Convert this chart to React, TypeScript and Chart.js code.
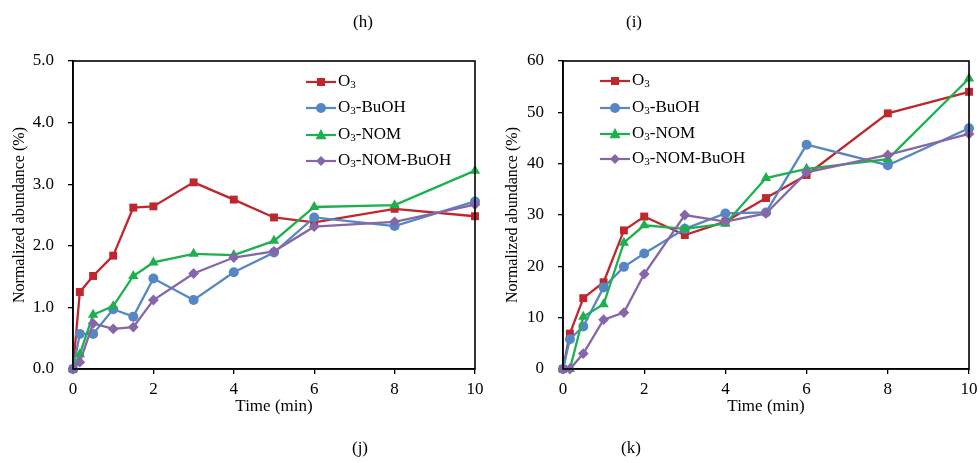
import React, { useEffect, useRef } from 'react';
import { Chart, registerables } from 'chart.js';

Chart.register(...registerables);

const timeMin = [0, 0.17, 0.5, 1, 1.5, 2, 3, 4, 5, 6, 8, 10];
const seriesNames = ['O3', 'O3-BuOH', 'O3-NOM', 'O3-NOM-BuOH'];
const xTicks = [0, 2, 4, 6, 8, 10];

// Panel (h) values, %
const hO3 = [0, 1.25, 1.51, 1.84, 2.62, 2.64, 3.03, 2.75, 2.46, 2.38, 2.6, 2.48];
const hBuOH = [0, 0.57, 0.57, 0.97, 0.85, 1.47, 1.12, 1.57, 1.89, 2.46, 2.32, 2.72];
const hNOM = [0, 0.24, 0.88, 1.02, 1.51, 1.73, 1.87, 1.85, 2.08, 2.63, 2.66, 3.22];
const hNOMBuOH = [0, 0.11, 0.74, 0.65, 0.68, 1.12, 1.55, 1.81, 1.91, 2.31, 2.39, 2.67];
const hYTicks = [0, 1, 2, 3, 4, 5];

// Panel (i) values, %
const iO3 = [0, 6.9, 13.8, 16.9, 27.0, 29.7, 26.1, 28.7, 33.3, 37.8, 49.8, 54.0];
const iBuOH = [0, 5.8, 8.3, 15.9, 19.9, 22.5, 27.3, 30.3, 30.5, 43.7, 39.7, 46.9];
const iNOM = [0, 0, 10.2, 12.6, 24.6, 28.0, 27.3, 28.3, 37.2, 39.0, 40.9, 56.6];
const iNOMBuOH = [0, 0, 3.0, 9.6, 11.0, 18.5, 30.0, 28.7, 30.3, 38.3, 41.7, 45.8];
const iYTicks = [0, 10, 20, 30, 40, 50, 60];

const colors = ['#C0262D', '#5687C4', '#1DB04E', '#8766A8'];
const pointStyles = ['rect', 'circle', 'triangle', 'rectRot'];
const pointRadii = [5.6, 5, 6, 5.4];
const legendRadii = [4, 5, 5.5, 5];

const SERIF = "'Liberation Serif', 'Times New Roman', serif";

function drawMarker(ctx: CanvasRenderingContext2D, style: string, x: number, y: number, r: number, color: string) {
  ctx.save();
  ctx.fillStyle = color;
  ctx.beginPath();
  if (style === 'rect') {
    ctx.rect(x - r, y - r, 2 * r, 2 * r);
  } else if (style === 'circle') {
    ctx.arc(x, y, r, 0, Math.PI * 2);
  } else if (style === 'triangle') {
    ctx.moveTo(x, y - r * 1.1);
    ctx.lineTo(x + r, y + r * 0.75);
    ctx.lineTo(x - r, y + r * 0.75);
    ctx.closePath();
  } else {
    ctx.moveTo(x, y - r);
    ctx.lineTo(x + r, y);
    ctx.lineTo(x, y + r);
    ctx.lineTo(x - r, y);
    ctx.closePath();
  }
  ctx.fill();
  ctx.restore();
}

const boxPlugin = {
  id: 'boxAndLegend',
  afterDraw(chart: any, _args: any, opts: any) {
    const { ctx, chartArea } = chart;
    ctx.save();
    ctx.strokeStyle = '#000';
    ctx.lineWidth = 1.6;
    ctx.strokeRect(chartArea.left, chartArea.top, chartArea.right - chartArea.left, chartArea.bottom - chartArea.top);
    // legend
    const lx = chartArea.left + opts.dx;
    const rows: number[] = opts.rows;
    chart.data.datasets.forEach((_ds: any, i: number) => {
      const y = rows[i];
      ctx.strokeStyle = colors[i];
      ctx.lineWidth = 2.2;
      ctx.beginPath();
      ctx.moveTo(lx, y);
      ctx.lineTo(lx + 30, y);
      ctx.stroke();
      drawMarker(ctx, pointStyles[i], lx + 15, y, legendRadii[i], colors[i]);
      const name: string = seriesNames[i];
      let tx = lx + 32;
      ctx.fillStyle = '#000';
      ctx.textBaseline = 'middle';
      ctx.textAlign = 'left';
      ctx.font = `17px ${SERIF}`;
      ctx.fillText('O', tx, y);
      tx += ctx.measureText('O').width;
      ctx.font = `11px ${SERIF}`;
      ctx.fillText('3', tx, y + 3);
      tx += ctx.measureText('3').width;
      ctx.font = `17px ${SERIF}`;
      ctx.fillText(name.slice(2), tx, y);
    });
    ctx.restore();
  },
};

type Panel = {
  series: number[][];
  yTicks: number[];
  decimals: number;
  legendDx: number;
  legendRows: number[];
  yWidth: number;
  padLeft: number;
  padRight: number;
};

function makeConfig(p: Panel): any {
  const yMax = p.yTicks[p.yTicks.length - 1];
  return {
    type: 'line',
    data: {
      datasets: p.series.map((vals, i) => ({
        label: seriesNames[i],
        data: timeMin.map((t, j) => ({ x: t, y: vals[j] })),
        borderColor: colors[i],
        backgroundColor: colors[i],
        pointStyle: pointStyles[i],
        pointRadius: pointRadii[i],
        pointBorderWidth: 0,
        borderWidth: 2.3,
        clip: false,
        tension: 0,
        order: 3 - i,
      })),
    },
    options: {
      responsive: false,
      animation: false,
      devicePixelRatio: 1,
      layout: { padding: { left: p.padLeft, right: p.padRight, top: 61, bottom: 46 } },
      plugins: {
        legend: { display: false },
        tooltip: { enabled: false },
        boxAndLegend: { dx: p.legendDx, rows: p.legendRows },
      },
      scales: {
        x: {
          type: 'linear',
          min: 0,
          max: 10,
          afterBuildTicks: (scale: any) => {
            scale.ticks = xTicks.map((v) => ({ value: v }));
          },
          afterFit: (scale: any) => {
            scale.height = 48;
            scale.paddingLeft = 0;
            scale.paddingRight = 0;
          },
          ticks: {
            color: '#000',
            font: { family: SERIF, size: 17 },
            padding: 5,
            maxRotation: 0,
          },
          grid: { display: true, drawOnChartArea: false, drawTicks: true, tickLength: 5, color: '#000', lineWidth: 1.3 },
          border: { display: true, color: '#000', width: 1.6 },
          title: {
            display: true,
            text: 'Time (min)',
            color: '#000',
            font: { family: SERIF, size: 17 },
            padding: { top: 0, bottom: 0 },
          },
        },
        y: {
          type: 'linear',
          min: 0,
          max: yMax,
          afterBuildTicks: (scale: any) => {
            scale.ticks = p.yTicks.map((v) => ({ value: v }));
          },
          afterFit: (scale: any) => {
            scale.width = p.yWidth;
            scale.paddingTop = 0;
            scale.paddingBottom = 0;
          },
          ticks: {
            color: '#000',
            font: { family: SERIF, size: 17 },
            padding: 14,
            callback: (v: number) => Number(v).toFixed(p.decimals),
          },
          grid: { display: true, drawOnChartArea: false, drawTicks: true, tickLength: 5, color: '#000', lineWidth: 1.3 },
          border: { display: true, color: '#000', width: 1.6 },
          title: {
            display: true,
            text: 'Normalized abundance (%)',
            color: '#000',
            font: { family: SERIF, size: 16 },
            padding: { top: 0, bottom: 0 },
          },
        },
      },
    },
    plugins: [boxPlugin],
  };
}

const panelH: Panel = {
  series: [hO3, hBuOH, hNOM, hNOMBuOH],
  yTicks: hYTicks,
  decimals: 1,
  legendDx: 233,
  legendRows: [82, 108, 135, 161],
  yWidth: 63,
  padLeft: 10,
  padRight: 15,
};

const panelI: Panel = {
  series: [iO3, iBuOH, iNOM, iNOMBuOH],
  yTicks: iYTicks,
  decimals: 0,
  legendDx: 37,
  legendRows: [81, 108, 134, 159],
  yWidth: 60,
  padLeft: 13,
  padRight: 11,
};

function ChartPanel({ panel, left }: { panel: Panel; left: number }) {
  const ref = useRef<HTMLCanvasElement>(null);
  useEffect(() => {
    if (!ref.current) return;
    const chart = new Chart(ref.current, makeConfig(panel));
    return () => chart.destroy();
  }, [panel]);
  return (
    <canvas
      ref={ref}
      width={490}
      height={463}
      style={{ position: 'absolute', left, top: 0, width: 490, height: 463 }}
    />
  );
}

const labelStyle = (x: number, y: number): React.CSSProperties => ({
  position: 'absolute',
  left: x - 30,
  top: y - 11,
  width: 60,
  textAlign: 'center',
  fontFamily: SERIF,
  fontSize: 17,
  lineHeight: '22px',
  color: '#000',
});

export default function App() {
  return (
    <div style={{ position: 'absolute', left: 0, top: 0, width: 980, height: 463, background: '#fff', overflow: 'hidden' }}>
      <ChartPanel panel={panelH} left={0} />
      <ChartPanel panel={panelI} left={490} />
      <div style={labelStyle(363, 22)}>(h)</div>
      <div style={labelStyle(634, 22)}>(i)</div>
      <div style={labelStyle(360, 448)}>(j)</div>
      <div style={labelStyle(631, 448)}>(k)</div>
    </div>
  );
}
